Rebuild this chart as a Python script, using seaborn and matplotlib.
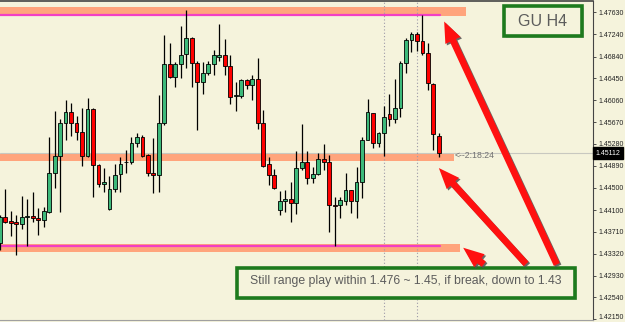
import numpy as np
import pandas as pd
import seaborn as sns
import matplotlib
matplotlib.use("Agg")
import matplotlib.pyplot as plt
from matplotlib.patches import Rectangle, FancyArrowPatch
import matplotlib.transforms as mtransforms

# ---------------- data ----------------
opens = [1.4351, 1.4398, 1.4391, 1.4388, 1.4385, 1.4398, 1.4399, 1.4396, 1.4392, 1.4407,
         1.4476, 1.4507, 1.4565, 1.4585, 1.4565, 1.4550, 1.4507, 1.4590, 1.4490, 1.4457,
         1.4412, 1.4447, 1.4474, 1.4495, 1.4496, 1.4529, 1.4540, 1.4508, 1.4476, 1.4472,
         1.4566, 1.4670, 1.4648, 1.4670, 1.4688, 1.4718, 1.4672, 1.4639, 1.4654, 1.4670,
         1.4684, 1.4687, 1.4667, 1.4614, 1.4614, 1.4642, 1.4634, 1.4644, 1.4565, 1.4492,
         1.4473, 1.4410, 1.4426, 1.4429, 1.4422, 1.4485, 1.4495, 1.4468, 1.4474, 1.4501,
         1.4496, 1.4419, 1.4419, 1.4426, 1.4445, 1.4426, 1.4461, 1.4535, 1.4583, 1.4530,
         1.4547, 1.4581, 1.4572, 1.4592, 1.4672, 1.4714, 1.4724, 1.4711, 1.4690, 1.4635,
         1.4542]
highs = [1.4401, 1.4448, 1.4409, 1.4401, 1.4436, 1.4430, 1.4442, 1.4413, 1.4416, 1.4541,
         1.4586, 1.4573, 1.4606, 1.4602, 1.4578, 1.4593, 1.4610, 1.4592, 1.4493, 1.4486,
         1.4470, 1.4493, 1.4504, 1.4518, 1.4540, 1.4547, 1.4544, 1.4510, 1.4538, 1.4615,
         1.4722, 1.4708, 1.4675, 1.4739, 1.4768, 1.4719, 1.4676, 1.4675, 1.4676, 1.4696,
         1.4742, 1.4715, 1.4687, 1.4639, 1.4644, 1.4644, 1.4651, 1.4681, 1.4589, 1.4505,
         1.4483, 1.4444, 1.4446, 1.4461, 1.4516, 1.4563, 1.4515, 1.4487, 1.4511, 1.4528,
         1.4508, 1.4434, 1.4434, 1.4476, 1.4446, 1.4487, 1.4541, 1.4608, 1.4584, 1.4550,
         1.4596, 1.4618, 1.4644, 1.4676, 1.4717, 1.4728, 1.4727, 1.4758, 1.4709, 1.4636,
         1.4547]
lows = [1.4339, 1.4387, 1.4364, 1.4330, 1.4377, 1.4345, 1.4389, 1.4365, 1.4380, 1.4404,
        1.4449, 1.4407, 1.4535, 1.4542, 1.4535, 1.4489, 1.4505, 1.4434, 1.4451, 1.4443,
        1.4411, 1.4443, 1.4443, 1.4476, 1.4493, 1.4523, 1.4505, 1.4470, 1.4440, 1.4443,
        1.4562, 1.4645, 1.4630, 1.4645, 1.4664, 1.4630, 1.4553, 1.4617, 1.4651, 1.4652,
        1.4676, 1.4651, 1.4599, 1.4586, 1.4610, 1.4626, 1.4606, 1.4554, 1.4487, 1.4455,
        1.4448, 1.4401, 1.4407, 1.4388, 1.4403, 1.4481, 1.4457, 1.4458, 1.4473, 1.4481,
        1.4371, 1.4345, 1.4395, 1.4419, 1.4404, 1.4395, 1.4431, 1.4535, 1.4520, 1.4523,
        1.4507, 1.4560, 1.4566, 1.4577, 1.4654, 1.4693, 1.4694, 1.4687, 1.4624, 1.4517,
        1.4505]
closes = [1.4398, 1.4389, 1.4387, 1.4385, 1.4397, 1.4399, 1.4395, 1.4392, 1.4408, 1.4476,
          1.4507, 1.4566, 1.4585, 1.4565, 1.4549, 1.4506, 1.4590, 1.4490, 1.4457, 1.4461,
          1.4447, 1.4473, 1.4493, 1.4496, 1.4529, 1.4540, 1.4507, 1.4476, 1.4472, 1.4566,
          1.4670, 1.4648, 1.4670, 1.4686, 1.4718, 1.4672, 1.4639, 1.4654, 1.4670, 1.4686,
          1.4686, 1.4667, 1.4612, 1.4615, 1.4642, 1.4634, 1.4644, 1.4565, 1.4489, 1.4473,
          1.4450, 1.4426, 1.4429, 1.4422, 1.4485, 1.4495, 1.4468, 1.4474, 1.4501, 1.4496,
          1.4419, 1.4418, 1.4428, 1.4445, 1.4426, 1.4461, 1.4535, 1.4585, 1.4530, 1.4547,
          1.4577, 1.4572, 1.4592, 1.4673, 1.4714, 1.4724, 1.4711, 1.4690, 1.4636, 1.4545,
          1.45112]

tick_values = [1.47630, 1.47240, 1.46840, 1.46450, 1.46060, 1.45670, 1.45280,
               1.44890, 1.44500, 1.44100, 1.43710, 1.43320, 1.42930, 1.42540, 1.42150]
current_price = 1.45112
timer_label = "<--2:18:24"
separators = [70, 76]

top_zone = (1.4756, 1.4772)
top_line = 1.4759
mid_zone = (1.4498, 1.4510)
low_zone = (1.4335, 1.4350)
low_line = 1.4346

title_text = "GU H4"
note_text = "Still range play within 1.476 ~ 1.45, if break, down to 1.43"

df = pd.DataFrame({"open": opens, "high": highs, "low": lows, "close": closes})
df["idx"] = np.arange(len(df))
df["up"] = df["close"] >= df["open"]

# ---------------- style ----------------
BG = "#F5F3DC"
sns.set_theme(style="white", rc={"axes.facecolor": BG, "figure.facecolor": BG})
plt.rcParams["font.family"] = ["Liberation Sans", "DejaVu Sans"]

W, H = 625, 322
fig = plt.figure(figsize=(W / 100, H / 100), dpi=100)
ax = fig.add_axes([0, 2 / H, 593 / W, 319 / H])
ax.set_facecolor(BG)

# zones
ax.axhspan(*top_zone, xmin=0, xmax=466 / 593, color="#FFA47C", lw=0, zorder=1)
ax.axhline(top_line, xmin=0, xmax=440 / 593, color="#F23EC4", lw=1.6, zorder=1.5)
ax.axhspan(*mid_zone, xmin=0, xmax=454 / 593, color="#FFA47C", lw=0, zorder=1)
ax.axhspan(*low_zone, xmin=0, xmax=460 / 593, color="#FFA47C", lw=0, zorder=1)
ax.axhline(low_line, xmin=0, xmax=440 / 593, color="#F23EC4", lw=1.6, zorder=1.5)

# bid line
ax.axhline(current_price, color="#C8C8C0", lw=0.8, zorder=1.2)

# separators
for s in separators:
    ax.axvline(s, color="#9C98A8", lw=0.8, ls=(0, (1, 2)), zorder=1.3)

# wicks
ax.vlines(df["idx"], df["low"], df["high"], color="black", lw=0.9, zorder=2)
# bodies
body_bottom = np.minimum(df["open"], df["close"])
body_h = np.maximum(np.abs(df["close"] - df["open"]), 0.00003)
colors = np.where(df["up"], "#3DB97A", "#FF0000")
ax.bar(df["idx"], body_h, bottom=body_bottom, width=0.7, color=colors,
       edgecolor="black", linewidth=0.6, zorder=3)

ax.set_xlim(0.055, 108.07)
ax.set_ylim(1.42138, 1.47832)

ax.yaxis.tick_right()
ax.set_yticks(tick_values)
ax.set_yticklabels([f"{v:.5f}" for v in tick_values])
ax.tick_params(axis="y", length=2.5, width=0.6, color="#333333", pad=1.5,
               labelsize=5.0, labelcolor="#222222", right=True, direction="out")
# nudge the lowest label up so it stays inside the picture
last = ax.get_yticklabels()[-1]
last.set_transform(last.get_transform() +
                   mtransforms.ScaledTranslation(0, 2.0 / 72, fig.dpi_scale_trans))
ax.set_xticks([])
ax.spines["left"].set_visible(False)
ax.spines["right"].set_color("#444444")
ax.spines["right"].set_linewidth(0.8)
ax.spines["top"].set_color("#444444")
ax.spines["top"].set_linewidth(1.2)
ax.spines["bottom"].set_color("#A0A0A0")
ax.spines["bottom"].set_linewidth(0.8)

# current price label
ax.text(1.004, current_price, f"{current_price:.5f}", transform=ax.get_yaxis_transform(),
        ha="left", va="center", fontsize=5.0, color="white",
        bbox=dict(boxstyle="square,pad=0.35", fc="black", ec="black"), zorder=10,
        clip_on=False)
# timer text
fig.text(455 / W, 1 - 155.5 / H, timer_label, fontsize=6.3, color="#707070",
         ha="left", va="center")


def px_rect(x0, y0, x1, y1, **kw):
    return Rectangle((x0 / W, 1 - y1 / H), (x1 - x0) / W, (y1 - y0) / H,
                     transform=fig.transFigure, **kw)


# title box
fig.patches.append(px_rect(506, 8, 584, 38, fc="#B0B0A0", ec="none", alpha=0.5))
fig.patches.append(px_rect(504, 6, 582, 36, fc=BG, ec="#1D7A1D", lw=2.6))
fig.text(543 / W, 1 - 21.5 / H, title_text, fontsize=11.5, color="#5C5C5C",
         ha="center", va="center")

# note box
fig.patches.append(px_rect(239, 270, 577, 300, fc="#B0B0A0", ec="none", alpha=0.5))
fig.patches.append(px_rect(237, 268, 575, 298, fc=BG, ec="#1D7A1D", lw=2.6))
fig.text(406 / W, 1 - 281 / H, note_text, fontsize=8.8, color="#5C5C5C",
         ha="center", va="center")

# arrows
arrows = [((558, 267), (443, 19)), ((528, 266), (437, 166)), ((486, 266), (461, 246))]
for (x0, y0), (x1, y1) in arrows:
    for off, col, z in [((1.5, 1.5), "#505050", 5), ((0, 0), "#FF1010", 6)]:
        a = FancyArrowPatch(((x0 + off[0]) / W, 1 - (y0 + off[1]) / H),
                            ((x1 + off[0]) / W, 1 - (y1 + off[1]) / H),
                            transform=fig.transFigure,
                            arrowstyle="simple,head_width=12,head_length=15,tail_width=4.8",
                            color=col, lw=0, zorder=z, alpha=0.85 if col != "#FF1010" else 1)
        fig.patches.append(a)

fig.savefig("out.png", dpi=100, facecolor=BG)
